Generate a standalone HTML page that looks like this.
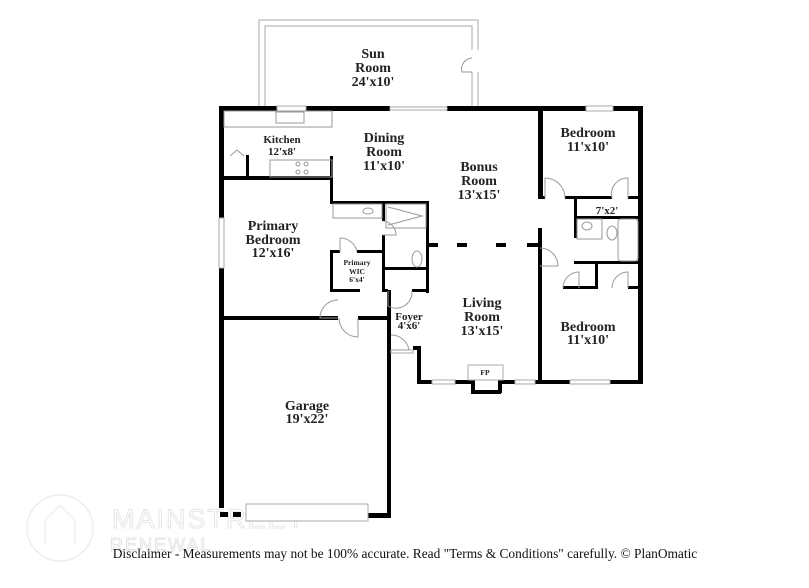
<!DOCTYPE html>
<html><head><meta charset="utf-8"><style>
html,body{margin:0;padding:0;background:#fff;}
svg{display:block}
text{font-family:"Liberation Serif",serif;font-weight:bold;fill:#222;text-anchor:middle}
</style></head><body>
<svg width="809" height="588" viewBox="0 0 809 588" xmlns="http://www.w3.org/2000/svg">
<g fill="none" stroke="#eee" stroke-width="1.5">
<circle cx="60" cy="528" r="33"/>
<path d="M45 545 L45 520 L60 505 L75 520 L75 545"/>
</g>
<text x="112" y="528" style="font-family:'Liberation Sans',sans-serif;font-weight:normal;font-size:27px;fill:none;stroke:#e6e6e6;stroke-width:1;text-anchor:start;letter-spacing:2px">MAINSTREET</text>
<text x="110" y="551" style="font-family:'Liberation Sans',sans-serif;font-weight:normal;font-size:18px;fill:none;stroke:#e6e6e6;stroke-width:1;text-anchor:start;letter-spacing:2px">RENEWAL</text>

<g fill="none" stroke="#aaa" stroke-width="1">
<path d="M259 107 L259 20 L478 20 L478 107"/>
<path d="M265 107 L265 26 L472 26 L472 107"/>
</g>
<rect x="471" y="50" width="8" height="22" fill="#fff"/>
<path d="M472 72 L462 72 A11 11 0 0 1 472 58" fill="none" stroke="#999" stroke-width="1"/>

<g fill="#000">
<rect x="219" y="106" width="58" height="5"/>
<rect x="306" y="106" width="84" height="5"/>
<rect x="447" y="106" width="139" height="5"/>
<rect x="613" y="106" width="30" height="5"/>
<rect x="638" y="106" width="5" height="278"/>
<rect x="219" y="106" width="5" height="402"/>
<rect x="219" y="176" width="113" height="4"/>
<rect x="246" y="155" width="3" height="22"/>
<rect x="330" y="156" width="3" height="48"/>
<rect x="330" y="201" width="98" height="3"/>
<rect x="426" y="201" width="3" height="92"/>
<rect x="382" y="201" width="3" height="20"/>
<rect x="382" y="235" width="3" height="34"/>
<rect x="382" y="267" width="46" height="3"/>
<rect x="330" y="250" width="3" height="42"/>
<rect x="330" y="250" width="10" height="3"/>
<rect x="357" y="250" width="28" height="3"/>
<rect x="330" y="289" width="30" height="3"/>
<rect x="382" y="250" width="3" height="42"/>
<rect x="382" y="289" width="6" height="3"/>
<rect x="412" y="289" width="17" height="3"/>
<rect x="428" y="243" width="10" height="4"/>
<rect x="457" y="243" width="10" height="4"/>
<rect x="496" y="243" width="10" height="4"/>
<rect x="527" y="243" width="13" height="4"/>
<rect x="538" y="106" width="5" height="92"/>
<rect x="538" y="196" width="7" height="3"/>
<rect x="565" y="196" width="47" height="3"/>
<rect x="628" y="196" width="15" height="3"/>
<rect x="574" y="196" width="3" height="42"/>
<rect x="574" y="216" width="69" height="3"/>
<rect x="538" y="228" width="4" height="156"/>
<rect x="574" y="261" width="69" height="3"/>
<rect x="595" y="261" width="3" height="27"/>
<rect x="563" y="286" width="35" height="3"/>
<rect x="628" y="286" width="15" height="3"/>
<rect x="219" y="316" width="119" height="4"/>
<rect x="358" y="316" width="32" height="4"/>
<rect x="387" y="316" width="4" height="202"/>
<rect x="368" y="513" width="23" height="5"/>
<rect x="220" y="512" width="8" height="5"/>
<rect x="233" y="512" width="8" height="5"/>
<rect x="387" y="290" width="4" height="45"/>
<rect x="413" y="346" width="8" height="4"/>
<rect x="417" y="346" width="4" height="38"/>
<rect x="417" y="380" width="15" height="4"/>
<rect x="455" y="380" width="17" height="4"/>
<rect x="471" y="380" width="4" height="13"/>
<rect x="471" y="390" width="30" height="4"/>
<rect x="498" y="380" width="4" height="13"/>
<rect x="498" y="380" width="17" height="4"/>
<rect x="535" y="380" width="35" height="4"/>
<rect x="610" y="380" width="33" height="4"/>
</g>
<g fill="#fff" stroke="#aaa" stroke-width="1">
<rect x="277" y="106" width="29" height="5"/>
<rect x="390" y="107" width="57" height="3"/>
<rect x="586" y="106" width="27" height="5"/>
<rect x="219" y="218" width="5" height="50"/>
<rect x="432" y="380" width="23" height="4"/>
<rect x="515" y="380" width="20" height="4"/>
<rect x="570" y="380" width="40" height="4"/>
<rect x="246" y="504" width="122" height="17"/>
<rect x="468" y="365" width="35" height="15"/>
<rect x="391" y="350" width="22" height="3"/>
</g>
<g fill="none" stroke="#999" stroke-width="1">
<rect x="224" y="111" width="108" height="16"/>
<rect x="276" y="112" width="28" height="11"/>
<rect x="270" y="160" width="62" height="17"/>
<circle cx="298" cy="164" r="2"/><circle cx="306" cy="164" r="2"/><circle cx="298" cy="172" r="2"/><circle cx="306" cy="172" r="2"/>
<path d="M230 156 L237 150 L244 156"/>
<rect x="333" y="204" width="49" height="14"/>
<ellipse cx="368" cy="211" rx="5" ry="3"/>
<rect x="386" y="204" width="40" height="24"/>
<path d="M388 207 L422 216 L388 225"/>
<ellipse cx="417" cy="259" rx="5" ry="8"/>
<rect x="577" y="219" width="25" height="20"/>
<ellipse cx="587" cy="226" rx="5" ry="4"/>
<ellipse cx="612" cy="233" rx="5" ry="7"/>
<rect x="618" y="219" width="20" height="42" rx="3"/>
<path d="M545 198 L545 178 A20 20 0 0 1 565 198"/>
<path d="M628 198 L628 178 A16 16 0 0 0 612 198"/>
<path d="M540 248 A18 18 0 0 1 558 266 L540 266"/>
<path d="M563 288 A16 16 0 0 1 579 272 L579 288"/>
<path d="M628 288 L628 272 A16 16 0 0 0 612 288"/>
<path d="M383 221 A14 14 0 0 1 396 235 L383 235"/>
<path d="M340 252 L340 238 A17 17 0 0 1 357 252"/>
<path d="M388 291 L388 306 A16 16 0 0 0 412 291"/>
<path d="M338 318 L320 318 A18 18 0 0 1 338 300"/>
<path d="M358 318 L358 337 A19 19 0 0 1 339 318"/>
<path d="M391 335 A18 18 0 0 1 409 350 L391 350"/>
</g>

<g style="font-size:14px">
<text x="373" y="58">Sun</text><text x="373" y="72">Room</text><text x="373" y="86">24'x10'</text>
<text x="384" y="142">Dining</text><text x="384" y="156">Room</text><text x="384" y="170">11'x10'</text>
<text x="479" y="171">Bonus</text><text x="479" y="185">Room</text><text x="479" y="199">13'x15'</text>
<text x="588" y="137">Bedroom</text><text x="588" y="151">11'x10'</text>
<text x="273" y="230">Primary</text><text x="273" y="244">Bedroom</text><text x="273" y="257">12'x16'</text>
<text x="482" y="307">Living</text><text x="482" y="321">Room</text><text x="482" y="335">13'x15'</text>
<text x="588" y="331">Bedroom</text><text x="588" y="344">11'x10'</text>
<text x="307" y="410">Garage</text><text x="307" y="423">19'x22'</text>
</g>
<g style="font-size:11px">
<text x="282" y="143">Kitchen</text><text x="282" y="155">12'x8'</text>
<text x="607" y="214">7'x2'</text>
<text x="409" y="320">Foyer</text><text x="409" y="329">4'x6'</text>
</g>
<g style="font-size:7.5px">
<text x="357" y="265">Primary</text><text x="357" y="274">WIC</text><text x="357" y="282">6'x4'</text>
<text x="485" y="375">FP</text>
</g>
<text x="405" y="558" style="font-size:13.4px;font-weight:normal;fill:#111">Disclaimer - Measurements may not be 100% accurate. Read "Terms &amp; Conditions" carefully. © PlanOmatic</text>
</svg>
</body></html>
